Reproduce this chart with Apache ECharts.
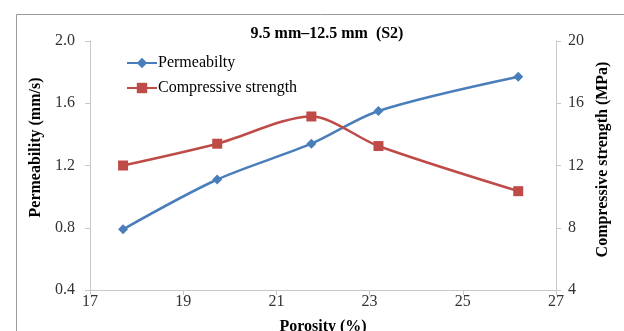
<!DOCTYPE html>
<html>
<head>
<meta charset="utf-8">
<script src="https://cdn.jsdelivr.net/npm/echarts@6/dist/echarts.min.js"></script>
<style>
  html, body { margin: 0; padding: 0; background: #fff; }
  #chart { width: 624px; height: 331px; }
</style>
</head>
<body>
<div id="chart"></div>
<script>
// Porosity (%) for each mix
const porosity = [17.71, 19.73, 21.75, 23.19, 26.19];
// Permeability (mm/s)
const permeability = [0.79, 1.11, 1.34, 1.55, 1.77];
// Compressive strength (MPa)
const strength = [12.0, 13.4, 15.15, 13.25, 10.35];

const chartTitle = '9.5 mm\u201312.5 mm  (S2)';
const serif = '"Liberation Serif", "DejaVu Serif", serif';

const pairs = (xs, ys) => xs.map((x, i) => [x, ys[i]]);

const chart = echarts.init(document.getElementById('chart'));
chart.setOption({
  animation: false,
  backgroundColor: '#fff',
  graphic: [{
    type: 'rect',
    shape: { x: 16.5, y: 14.5, width: 640, height: 340 },
    style: { fill: 'none', stroke: '#9a9a9a', lineWidth: 1 },
    silent: true
  }],
  title: {
    text: chartTitle,
    left: 322, top: 21, textAlign: 'center',
    textStyle: { fontFamily: serif, fontSize: 16, fontWeight: 'bold', color: '#000' }
  },
  legend: {
    orient: 'vertical',
    left: 121, top: 50,
    itemWidth: 30, itemHeight: 13, itemGap: 9,
    textStyle: { fontFamily: serif, fontSize: 16, color: '#000', padding: [0, 0, 0, -4] },
    data: ['Permeabilty', 'Compressive strength']
  },
  grid: { left: 90, right: 68, top: 41, bottom: 41, outerBoundsMode: 'none', containLabel: false },
  xAxis: {
    type: 'value', min: 17, max: 27, interval: 2,
    name: 'Porosity (%)', nameLocation: 'middle', nameGap: 29,
    nameTextStyle: { fontFamily: serif, fontSize: 16, fontWeight: 'bold', color: '#000' },
    axisLine: { lineStyle: { color: '#c8c8c8' } },
    axisTick: { show: true, length: 5, lineStyle: { color: '#c8c8c8' } },
    axisLabel: { fontFamily: serif, fontSize: 16, color: '#333', margin: 4 },
    splitLine: { show: false }
  },
  yAxis: [{
    type: 'value', min: 0.4, max: 2.0, interval: 0.4,
    name: 'Permeability (mm/s)', nameLocation: 'middle', nameGap: 43, nameRotate: 90,
    nameTextStyle: { fontFamily: serif, fontSize: 16, fontWeight: 'bold', color: '#000', padding: [0, 0, 0, 36] },
    axisLine: { show: true, lineStyle: { color: '#c8c8c8' } },
    axisTick: { show: true, length: 5, lineStyle: { color: '#c8c8c8' } },
    axisLabel: { fontFamily: serif, fontSize: 16, color: '#333', margin: 15, formatter: v => v.toFixed(1) },
    splitLine: { show: false }
  }, {
    type: 'value', min: 4, max: 20, interval: 4,
    name: 'Compressive strength (MPa)', nameLocation: 'middle', nameGap: 38, nameRotate: 90,
    nameTextStyle: { fontFamily: serif, fontSize: 16, fontWeight: 'bold', color: '#000', padding: [0, 0, 0, 12] },
    position: 'right',
    axisLine: { show: true, lineStyle: { color: '#c8c8c8' } },
    axisTick: { show: true, length: 5, lineStyle: { color: '#c8c8c8' } },
    axisLabel: { fontFamily: serif, fontSize: 16, color: '#333', margin: 12 },
    splitLine: { show: false }
  }],
  series: [{
    name: 'Permeabilty',
    type: 'line',
    yAxisIndex: 0,
    smooth: 0.3,
    symbol: 'diamond', symbolSize: 10,
    lineStyle: { color: '#4a7ebb', width: 2.5 },
    itemStyle: { color: '#4a7ebb' },
    data: pairs(porosity, permeability)
  }, {
    name: 'Compressive strength',
    type: 'line',
    yAxisIndex: 1,
    smooth: 0.3,
    symbol: 'rect', symbolSize: 10,
    lineStyle: { color: '#be4b48', width: 2.5 },
    itemStyle: { color: '#be4b48' },
    data: pairs(porosity, strength)
  }]
});
</script>
</body>
</html>
